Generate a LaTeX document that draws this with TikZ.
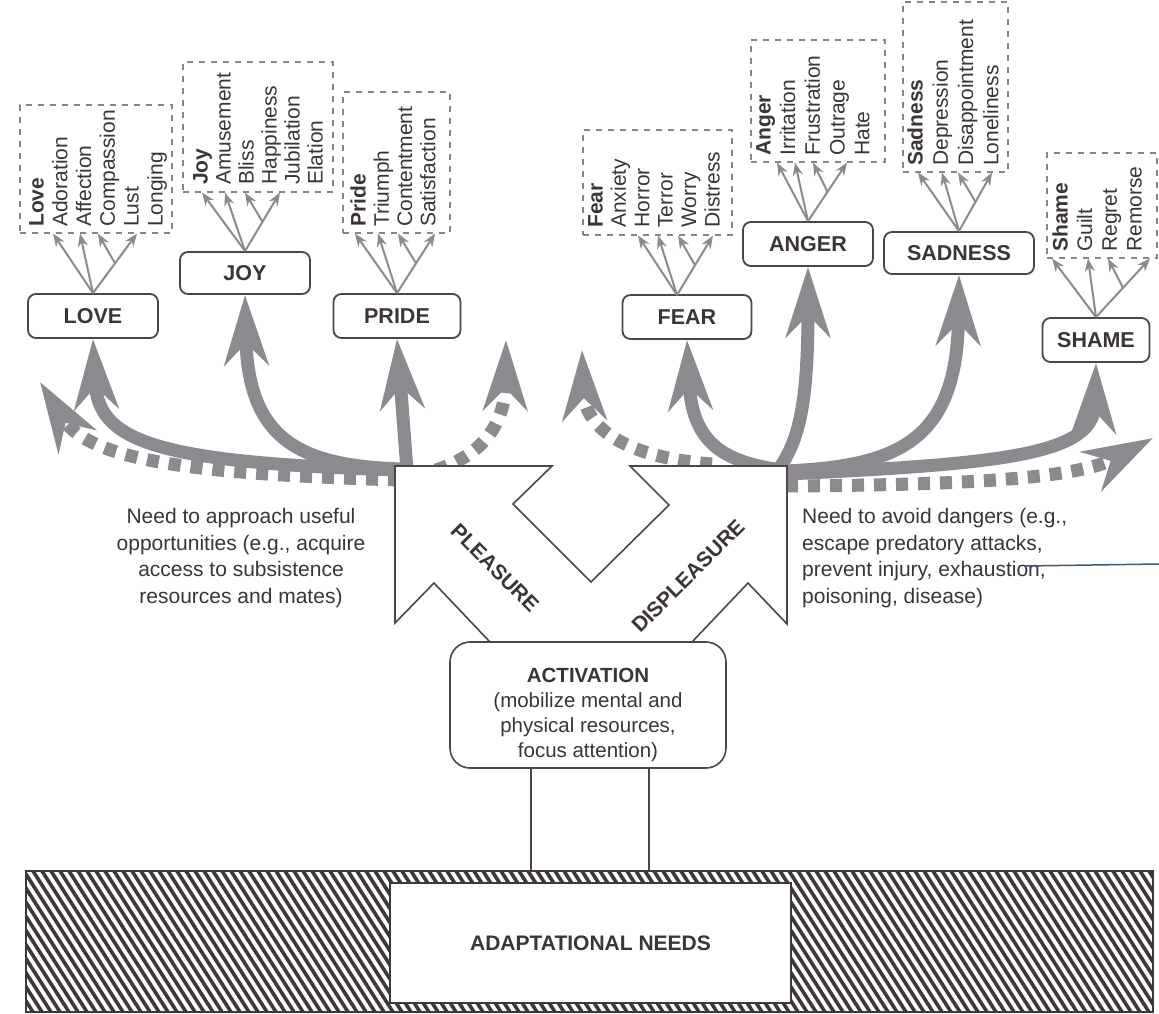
\documentclass[tikz,border=0pt]{standalone}
\usepackage{fontspec}
\setmainfont{Liberation Sans}
\usetikzlibrary{arrows.meta}
\definecolor{arrc}{RGB}{140,138,142}
\definecolor{txtc}{RGB}{60,53,53}
\definecolor{boxc}{RGB}{78,70,70}
\definecolor{dashc}{RGB}{138,133,133}
\definecolor{hatchc}{RGB}{62,56,56}
\definecolor{bluec}{RGB}{60,90,128}
\newcommand\fanout[6]{%
  \draw[fanarr] (#1.north) -- (#2.south -| #3);
  \draw[fanarr] (#1.north) -- (#2.south -| #4);
  \draw[fanarr] (#1.north) -- coordinate[pos=0.5] (#1-br) (#2.south -| #6);
  \draw[fanarr] (#1-br) -- (#2.south -| #5);
}
\begin{document}
\begin{tikzpicture}[x=1pt,y=-1pt,
  emobox/.style={draw=boxc,line width=1.8pt,rounded corners=8pt,fill=white,text=txtc,
    font=\fontsize{21.5}{24}\selectfont\bfseries,minimum height=44pt,inner sep=0pt},
  listbox/.style={draw=dashc,line width=1.1pt,dash pattern=on 6pt off 6pt,inner sep=0pt},
  itm/.style={rotate=90,anchor=west,inner sep=0pt,text=txtc,font=\fontsize{21}{24}\selectfont,
    text height=15pt,text depth=4pt},
  fanarr/.style={draw=arrc,line width=2pt,-{Stealth[length=13pt,width=10pt]}},
  bigarr/.style={draw=arrc,line width=13pt,-{Stealth[length=70pt,width=44pt,inset=22pt]}},
  dotarr/.style={bigarr,dash pattern=on 12pt off 10pt},
  bodytxt/.style={text=txtc,font=\fontsize{21}{26.7}\selectfont,inner sep=0pt},
  boldtxt/.style={text=txtc,font=\fontsize{21}{24}\selectfont\bfseries,inner sep=0pt},
  conn/.style={draw=boxc,line width=1.6pt},
]
\fill[white] (0,0) rectangle (1159,1014);
\useasboundingbox (0,0) rectangle (1159,1014);

% ---------- list boxes ----------
\node[listbox,minimum width=152pt,minimum height=128pt] (lovelist) at (96,169) {};
\node[listbox,minimum width=150pt,minimum height=130pt] (joylist) at (258,127) {};
\node[listbox,minimum width=107pt,minimum height=141pt] (pridelist) at (396.5,162.5) {};
\node[listbox,minimum width=149pt,minimum height=105pt] (fearlist) at (657.5,182.5) {};
\node[listbox,minimum width=134pt,minimum height=122pt] (angerlist) at (818,101) {};
\node[listbox,minimum width=105pt,minimum height=170pt] (sadlist) at (955.5,87) {};
\node[listbox,minimum width=110pt,minimum height=105pt] (shamelist) at (1102,205.5) {};

\foreach \t [count=\i] in {\textbf{Love},Adoration,Affection,Compassion,Lust,Longing}
  \node[itm] (love-\i) at ({38+23.8*(\i-1)},227) {\t};
\foreach \t [count=\i] in {\textbf{Joy},Amusement,Bliss,Happiness,Jubilation,Elation}
  \node[itm] (joy-\i) at ({202+23*(\i-1)},185) {\t};
\foreach \t [count=\i] in {\textbf{Pride},Triumph,Contentment,Satisfaction}
  \node[itm] (pride-\i) at ({360+23.3*(\i-1)},227) {\t};
\foreach \t [count=\i] in {\textbf{Fear},Anxiety,Horror,Terror,Worry,Distress}
  \node[itm] (fear-\i) at ({597+23.4*(\i-1)},228) {\t};
\foreach \t [count=\i] in {\textbf{Anger},Irritation,Frustration,Outrage,Hate}
  \node[itm] (anger-\i) at ({765+24.7*(\i-1)},156) {\t};
\foreach \t [count=\i] in {\textbf{Sadness},Depression,Disappointment,Loneliness}
  \node[itm] (sad-\i) at ({917+25.3*(\i-1)},166) {\t};
\foreach \t [count=\i] in {\textbf{Shame},Guilt,Regret,Remorse}
  \node[itm] (shame-\i) at ({1062+24.7*(\i-1)},252) {\t};

% ---------- emotion boxes ----------
\node[emobox,minimum width=130pt] (love) at (93,316) {LOVE};
\node[emobox,minimum width=130pt,minimum height=42pt] (joy) at (245,273) {JOY};
\node[emobox,minimum width=127pt] (pride) at (397,316) {PRIDE};
\node[emobox,minimum width=129pt] (fear) at (687,317) {FEAR};
\node[emobox,minimum width=130pt] (anger) at (808,244) {ANGER};
\node[emobox,minimum width=150pt,minimum height=42pt] (sadness) at (959,253) {SADNESS};
\node[emobox,minimum width=107pt] (shame) at (1096,340) {SHAME};

% x positions of fan arrow heads
\foreach \n/\x in {a1/53,a2/80,a3/98,a4/137,b1/202,b2/225,b3/245,b4/280,
   c1/355,c2/378,c3/398,c4/435,d1/638,d2/658,d3/678,d4/713,
   e1/777,e2/795,e3/813,e4/847,f1/918,f2/942,f3/958,f4/992,
   g1/1052,g2/1088,g3/1108,g4/1150}
  \coordinate (\n) at (\x,0);

\fanout{love}{lovelist}{a1}{a2}{a3}{a4}
\fanout{joy}{joylist}{b1}{b2}{b3}{b4}
\fanout{pride}{pridelist}{c1}{c2}{c3}{c4}
\coordinate (fearsrc) at (677,295);
\draw[fanarr] (fearsrc) -- (fearlist.south -| d1);
\draw[fanarr] (fearsrc) -- (fearlist.south -| d2);
\draw[fanarr] (fearsrc) -- coordinate[pos=0.5] (fear-br) (fearlist.south -| d4);
\draw[fanarr] (fear-br) -- (fearlist.south -| d3);
\fanout{anger}{angerlist}{e1}{e2}{e3}{e4}
\fanout{sadness}{sadlist}{f1}{f2}{f3}{f4}
\fanout{shame}{shamelist}{g1}{g2}{g3}{g4}

% ---------- big arrows ----------
\coordinate (sL1) at (402,470);
\coordinate (sL2) at (402,469);
\coordinate (sL3) at (407,470);
\coordinate (sL4) at (400,480);
\coordinate (sL5) at (436,470);
\coordinate (sR5) at (712,464);
\coordinate (sR1) at (782,470);
\coordinate (sR2) at (778,470);
\coordinate (sR3) at (786,471);
\coordinate (sR4) at (786,474);
\coordinate (sR6) at (786,486);
\coordinate (dl) at (40,382);
\coordinate (du1) at (506,340);
\coordinate (du2) at (582,350);
\coordinate (dr) at (1153,438);

\draw[dotarr] (sL4) .. controls (200,474) and (90,462) .. (dl);
\draw[dotarr] (sL5) .. controls (482,455) and (505,425) .. (du1);
\draw[dotarr] (sR5) .. controls (630,458) and (585,430) .. (du2);
\draw[dotarr] (sR6) .. controls (950,485) and (1075,480) .. (dr);
\draw[bigarr] (sL1) .. controls (150,463) and (98,440) .. (love.south);
\draw[bigarr] (sL2) .. controls (300,466) and (248,440) .. (joy.south);
\draw[bigarr] (sL3) -- (pride.south);
\draw[bigarr] (sR1) .. controls (720,462) and (692,440) .. (fear.south);
\draw[bigarr] (sR2) .. controls (800,440) and (808,400) .. (anger.south);
\draw[bigarr] (sR3) .. controls (900,466) and (957,440) .. (sadness.south);
\draw[bigarr] (sR4) .. controls (1000,464) and (1093,455) .. (shame.south);

% ---------- pleasure / displeasure shape ----------
\draw[draw=boxc,line width=1.6pt,fill=white,line join=miter]
  (395,466) -- (552,466) -- (513,504) -- (591,582) -- (669,505) -- (630,466)
  -- (787,466) -- (787,624) -- (748,583) -- (692,642) -- (490,642)
  -- (434,583) -- (395,623) -- cycle;
\node[boldtxt,rotate=-45] (pleasure) at (495,568) {PLEASURE};
\node[boldtxt,rotate=45] (displeasure) at (688,576) {DISPLEASURE};

% ---------- activation ----------
\node[draw=boxc,line width=1.6pt,fill=white,rounded corners=20pt,
  minimum width=276pt,minimum height=126pt,inner sep=0pt] (act) at (588,705) {};
\node[bodytxt,align=center,font=\fontsize{20.5}{25}\selectfont] (acttext) at (588,715)
  {\textbf{ACTIVATION}\\(mobilize mental and\\physical resources,\\focus attention)};

% ---------- texts ----------
\node[bodytxt,align=center] (approach) at (241,558)
  {Need to approach useful\\opportunities (e.g., acquire\\access to subsistence\\resources and mates)};
\node[bodytxt,align=left,anchor=west] (avoid) at (802,558)
  {Need to avoid dangers (e.g.,\\escape predatory attacks,\\prevent injury, exhaustion,\\poisoning, disease)};

% ---------- adaptational needs bar ----------
\node[minimum width=1127pt,minimum height=141pt,inner sep=0pt] (bar) at (589.5,941.5) {};
\begin{scope}
  \clip (bar.north west) rectangle (bar.south east);
  \foreach \x in {-120,-111,...,1160}
    \draw[draw=hatchc,line width=3.6pt] (\x,871) -- ++(90,141);
\end{scope}
\draw[draw=hatchc,line width=2pt] (bar.north west) rectangle (bar.south east);
\node[draw=hatchc,line width=1.6pt,fill=white,minimum width=401pt,minimum height=120pt,
  inner sep=0pt,boldtxt] (needs) at (590.5,943) {ADAPTATIONAL NEEDS};

\coordinate (v1) at (531,0);
\coordinate (v2) at (649,0);
\draw[conn] (act.south -| v1) -- (bar.north -| v1);
\draw[conn] (act.south -| v2) -- (bar.north -| v2);

% stray mark at right edge
\coordinate (bl1) at (1025,566);
\coordinate (bl2) at (1159,564);
\draw[draw=bluec,line width=1.5pt] (bl1) -- (bl2);
\end{tikzpicture}
\end{document}
